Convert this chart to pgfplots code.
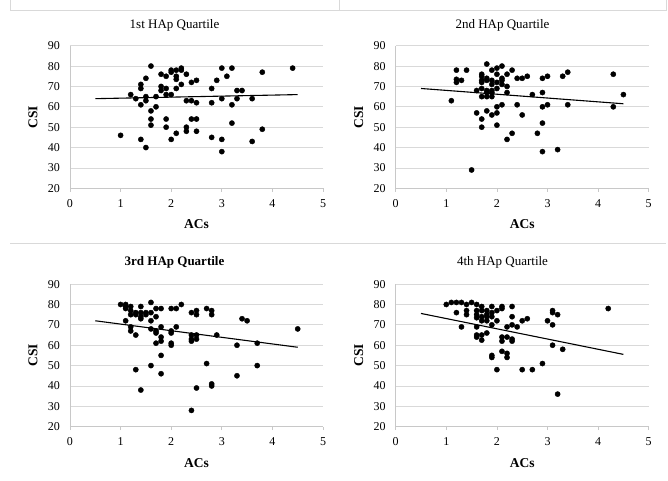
\documentclass[border=0pt]{standalone}
\usepackage{fontspec}
\setmainfont{Liberation Serif}
\usepackage{pgfplots}
\pgfplotsset{compat=1.18}

\definecolor{gridgray}{RGB}{217,217,217}
\definecolor{axisgray}{RGB}{200,200,200}

\pgfplotsset{
  quart/.style={
    scale only axis, width=253pt, height=142.6pt,
    xmin=0, xmax=5, ymin=20, ymax=90,
    xtick={0,1,2,3,4,5}, ytick={20,30,...,90},
    ymajorgrids, grid style={gridgray, line width=0.8pt},
    axis x line*=bottom, axis y line*=left,
    axis line style={axisgray, line width=0.8pt},
    tick align=outside,
    x tick style={axisgray, line width=0.8pt}, major tick length=3.5pt,
    y tick style={draw=none},
    tick label style={font=\fontsize{12}{14}\selectfont, black,
      /pgf/number format/assume math mode=true},
    xticklabel style={yshift=-4pt},
    yticklabel style={xshift=-3pt},
    clip=false,
  },
  dots/.style={only marks, mark=*, mark size=2.6pt, black},
  trend/.style={black, line width=1.1pt, mark=none},
}

\newcommand{\axlabels}{%
  \node[font=\fontsize{13.5}{15}\selectfont\bfseries]
    at ([yshift=-36pt]rel axis cs:0.5,0) {ACs};
  \node[font=\fontsize{13.5}{15}\selectfont\bfseries, rotate=90]
    at ([xshift=-37pt]rel axis cs:0,0.5) {CSI};
}

\begin{document}
\begin{tikzpicture}[x=1pt, y=1pt]
\path[use as bounding box] (0,0) rectangle (668,480);

% chart area borders
\draw[gridgray, line width=0.9pt] (10,481) -- (10,470) -- (666,470) -- (666,481);
\draw[gridgray, line width=0.9pt] (339,481) -- (339,470);
\draw[gridgray, line width=0.9pt] (10,237) -- (666,237);

% panel titles
\node[font=\fontsize{13}{15}\selectfont] at (174.5,455) {1st HAp Quartile};
\node[font=\fontsize{13}{15}\selectfont] at (502.5,455) {2nd HAp Quartile};
\node[font=\fontsize{13}{15}\selectfont\bfseries] at (174.5,218) {3rd HAp Quartile};
\node[font=\fontsize{13}{15}\selectfont] at (502.5,218) {4th HAp Quartile};

% 1st quartile
\begin{axis}[quart, at={(70pt,291.7pt)}, anchor=south west]
\addplot[dots] coordinates {
(1.0,46)(1.2,66)(1.3,64)(1.4,71)(1.4,69)(1.4,61)(1.4,44)(1.5,74)(1.5,65)
(1.5,63)(1.5,40)(1.6,80)(1.6,58)(1.6,54)(1.6,51)(1.7,65)(1.7,60)(1.8,76)
(1.8,70)(1.8,68)(1.9,75)(1.9,69)(1.9,66)(1.9,54)(1.9,50)(2.0,78)(2.0,77)
(2.0,66)(2.0,44)(2.1,78)(2.1,75)(2.1,73.5)(2.1,69)(2.1,47)(2.2,79)(2.2,78)
(2.2,71)(2.3,76)(2.3,63)(2.3,50)(2.3,48)(2.4,72)(2.4,63)(2.4,54)(2.5,73)
(2.5,62)(2.5,54)(2.5,48)(2.8,69)(2.8,62)(2.8,45)(2.9,73)(3.0,79)(3.0,64)
(3.0,44)(3.0,38)(3.1,75)(3.2,79)(3.2,61)(3.2,52)(3.3,68)(3.3,64)(3.4,68)
(3.6,64)(3.6,43)(3.8,77)(3.8,49)(4.4,79)
};
\addplot[trend] coordinates {(0.5,64)(4.5,66)};
\axlabels
\end{axis}

% 2nd quartile
\begin{axis}[quart, at={(395.7pt,291.7pt)}, anchor=south west]
\addplot[dots] coordinates {
(1.1,63)(1.2,78)(1.2,73.5)(1.2,72)(1.3,73)(1.4,78)(1.5,29)(1.6,57)(1.6,68)
(1.7,76)(1.7,75)(1.7,73)(1.7,72)(1.7,69)(1.7,65)(1.7,54)(1.7,50)(1.8,81)
(1.8,74)(1.8,73)(1.8,68)(1.8,67)(1.8,65)(1.8,58)(1.9,78)(1.9,73)(1.9,71)
(1.9,68)(1.9,67)(1.9,65)(1.9,56)(2.0,79)(2.0,76)(2.0,72)(2.0,69)(2.0,60)
(2.0,57)(2.0,51)(2.1,80)(2.1,74)(2.1,73)(2.1,71)(2.1,61)(2.2,76)(2.2,70)
(2.2,67)(2.2,44)(2.3,78)(2.3,47)(2.4,74)(2.4,61)(2.5,74)(2.5,56)(2.6,75)
(2.7,66)(2.8,47)(2.9,74)(2.9,67)(2.9,60)(2.9,52)(2.9,38)(3.0,75)(3.0,61)
(3.2,39)(3.3,75)(3.4,77)(3.4,61)(4.3,76)(4.3,60)(4.5,66)
};
\addplot[trend] coordinates {(0.5,69)(4.5,61.5)};
\axlabels
\end{axis}

% 3rd quartile
\begin{axis}[quart, at={(70pt,53.3pt)}, anchor=south west]
\addplot[dots] coordinates {
(1.0,80)(1.1,80)(1.1,79)(1.1,78)(1.1,72)(1.2,79)(1.2,77)(1.2,75)(1.2,69)
(1.2,67)(1.3,76)(1.3,75)(1.3,65)(1.3,48)(1.4,79)(1.4,76)(1.4,74)(1.4,73)
(1.4,38)(1.5,76)(1.5,75)(1.6,81)(1.6,76)(1.6,72)(1.6,68)(1.6,50)(1.7,78)
(1.7,74)(1.7,67)(1.7,66)(1.7,61)(1.8,78)(1.8,69)(1.8,64)(1.8,62)(1.8,55)
(1.8,46)(2.0,78)(2.0,67)(2.0,66)(2.0,61)(2.0,60)(2.1,78)(2.1,69)(2.2,80)
(2.4,76)(2.4,65)(2.4,63)(2.4,62)(2.4,28)(2.5,77)(2.5,75)(2.5,65)(2.5,63)
(2.5,39)(2.7,78)(2.7,51)(2.8,77)(2.8,75)(2.8,41)(2.8,40)(2.9,65)(3.3,60)
(3.3,45)(3.4,73)(3.5,72)(3.7,61)(3.7,50)(4.5,68)
};
\addplot[trend] coordinates {(0.5,72)(4.5,59)};
\axlabels
\end{axis}

% 4th quartile
\begin{axis}[quart, at={(395.7pt,53.3pt)}, anchor=south west]
\addplot[dots] coordinates {
(1.0,80)(1.1,81)(1.2,81)(1.2,76)(1.3,81)(1.3,69)(1.4,80)(1.4,77)(1.4,75)
(1.5,81)(1.6,80)(1.6,77)(1.6,75)(1.6,73.5)(1.6,69)(1.6,65)(1.6,64)(1.7,79)
(1.7,77)(1.7,74)(1.7,72)(1.7,65)(1.7,62.5)(1.8,77)(1.8,75)(1.8,74)(1.8,72)
(1.8,66)(1.9,79)(1.9,76)(1.9,74)(1.9,70)(1.9,55)(1.9,54)(2.0,77)(2.0,72)
(2.0,48)(2.1,79)(2.1,78)(2.1,64)(2.1,62)(2.1,57)(2.2,69)(2.2,64)(2.2,56)
(2.2,54)(2.3,79)(2.3,74)(2.3,70)(2.3,63)(2.3,62)(2.4,69)(2.5,72)(2.5,48)
(2.6,73)(2.7,48)(2.9,51)(3.0,72)(3.1,77)(3.1,76)(3.1,70)(3.1,60)(3.2,75)
(3.2,36)(3.3,58)(4.2,78)
};
\addplot[trend] coordinates {(0.5,75.6)(4.5,55.5)};
\axlabels
\end{axis}
\end{tikzpicture}
\end{document}
